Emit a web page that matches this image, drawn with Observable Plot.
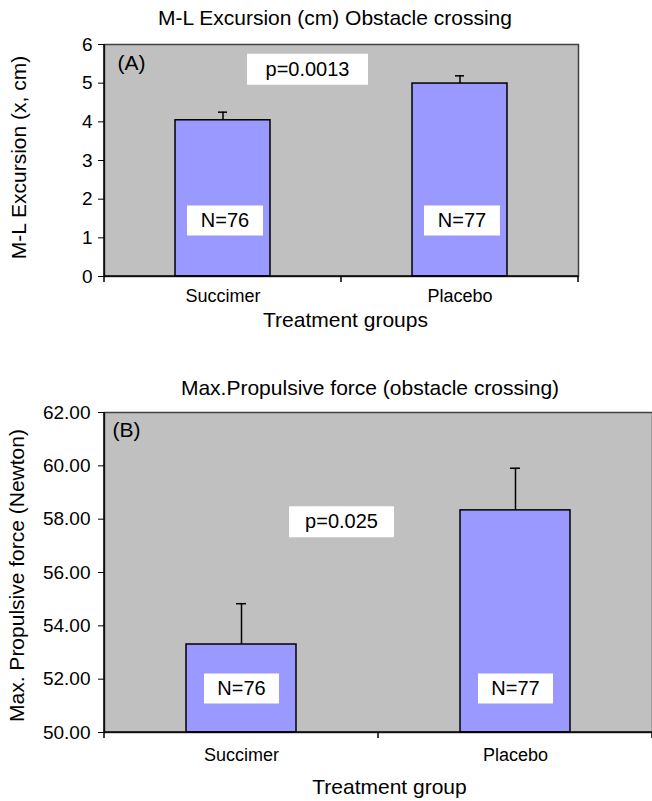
<!DOCTYPE html>
<html><head><meta charset="utf-8">
<script src="https://cdn.jsdelivr.net/npm/d3@7"></script>
<script src="https://cdn.jsdelivr.net/npm/@observablehq/plot@0.6"></script>
<style>
body{margin:0;background:#fff;width:652px;height:801px;overflow:hidden;font-family:"Liberation Sans",Arial,sans-serif;}
.title{font-size:21px;color:#000;white-space:nowrap;box-sizing:border-box;text-align:center;}
svg{overflow:visible;}
</style></head><body>
<div id="t1" class="title" style="height:36px;line-height:36px;padding-left:18px;">M-L Excursion (cm) Obstacle crossing</div>
<div id="c1"></div>
<div id="t2" class="title" style="height:70px;padding-top:44px;line-height:24px;padding-left:88px;">Max.Propulsive force (obstacle crossing)</div>
<div id="c2"></div>
<script>
// ---- data ----
const groups = ["Succimer", "Placebo"];
// Panel A: M-L excursion (cm)
const mlMean = [4.04, 4.99];
const mlSE = [0.21, 0.20];
const mlN = ["N=76", "N=77"];
const mlTicks = [0, 1, 2, 3, 4, 5, 6];
const mlP = "p=0.0013";
// Panel B: max propulsive force (Newton)
const forceMean = [53.30, 58.33];
const forceSE = [1.53, 1.58];
const forceN = ["N=76", "N=77"];
const forceTicks = [50, 52, 54, 56, 58, 60, 62];
const forceP = "p=0.025";

const FONT = "Liberation Sans, Arial, sans-serif";

// rectangular label-background symbol (w x h pixels)
function boxSymbol(w, h) {
  return {draw(context) { context.rect(-w / 2, -h / 2, w, h); }};
}

function axisLines(index, scales, values, dimensions) {
  const {width, height, marginLeft, marginRight, marginTop, marginBottom} = dimensions;
  const l = marginLeft, r = width - marginRight, t = marginTop, b = height - marginBottom;
  const g = d3.create("svg:g").attr("stroke", "#000").attr("stroke-width", 1.5);
  g.append("line").attr("x1", l).attr("x2", l).attr("y1", t).attr("y2", b + 6);
  g.append("line").attr("x1", l).attr("x2", r).attr("y1", b).attr("y2", b);
  const n = groups.length;
  for (let i = 1; i <= n; i++) {
    const x = l + i * (r - l) / n;
    g.append("line").attr("x1", x).attr("x2", x).attr("y1", b).attr("y2", b + 6);
  }
  return g.node();
}

function panel(o) {
  const data = groups.map((g, i) => ({group: g, mean: o.means[i], hi: o.means[i] + o.ses[i], n: o.ns[i]}));
  const y0 = o.ticks[0];
  return Plot.plot({
    width: 652, height: o.height,
    marginLeft: 104, marginRight: o.marginRight, marginTop: o.marginTop, marginBottom: o.marginBottom,
    style: {fontFamily: FONT, fontSize: "19px", color: "#000", background: "transparent", overflow: "visible"},
    x: {domain: groups, paddingInner: 0.6, paddingOuter: 0.3, label: null},
    y: {domain: [o.ticks[0], o.ticks[o.ticks.length - 1]], label: null},
    marks: [
      Plot.frame({fill: "#c0c0c0", stroke: "#404040", strokeWidth: 1.5}),
      Plot.barY(data, {x: "group", y1: y0, y2: "mean", fill: "#9999ff", stroke: "#000", strokeWidth: 1.5}),
      Plot.ruleX(data, {x: "group", y1: "mean", y2: "hi", stroke: "#000", strokeWidth: 1.5}),
      Plot.tickY(data, {x: "group", y: "hi", insetLeft: o.capInset, insetRight: o.capInset, stroke: "#000", strokeWidth: 1.5}),
      // N labels on white boxes
      Plot.dot(data, {x: "group", y: () => o.nY, symbol: boxSymbol(o.nBoxW, 30), r: 10, fill: "#fff", stroke: "none", dx: o.nBoxDx}),
      Plot.text(data, {x: "group", y: () => o.nY, text: "n", fontSize: 20, lineAnchor: "middle", dx: o.nBoxDx}),
      // p-value on white box
      Plot.dot([o.p], {y: () => o.pY, symbol: boxSymbol(o.pBoxW, 31), r: 10, fill: "#fff", stroke: "none", dx: o.pDx}),
      Plot.text([o.p], {y: () => o.pY, text: d => d, dx: o.pDx, fontSize: 20, lineAnchor: "middle"}),
      Plot.text([o.tag], {frameAnchor: "top-left", text: d => d, dx: o.tagDx, dy: o.tagDy, textAnchor: "start", lineAnchor: "middle", fontSize: 21}),
      Plot.axisY({ticks: o.ticks, tickFormat: o.fmt, tickSize: 6, tickPadding: o.yTickPadding, fontSize: 19, label: null}),
      Plot.axisX({tickSize: 0, tickPadding: o.xTickPadding, fontSize: 18, label: null}),
      axisLines,
      Plot.text([o.xTitle], {frameAnchor: "bottom", text: d => d, dx: o.xTitleDx, dy: o.xTitleDy, lineAnchor: "middle", fontSize: 21}),
      Plot.text([o.yTitle], {frameAnchor: "left", text: d => d, dx: o.yTitleDx, dy: o.yTitleDy, rotate: -90, textAnchor: "middle", lineAnchor: "middle", fontSize: 21})
    ]
  });
}

const A = panel({
  means: mlMean, ses: mlSE, ns: mlN, ticks: mlTicks, fmt: d => d3.format("d")(d), p: mlP,
  height: 296, marginTop: 8, marginBottom: 56, marginRight: 74,
  nY: 1.45, nBoxW: 76, nBoxDx: 2, pY: 5.36, pDx: -34, pBoxW: 121, capInset: 43,
  tag: "(A)", tagDx: 13, tagDy: 19, yTickPadding: 6, xTickPadding: 12.5,
  xTitle: "Treatment groups", xTitleDx: 4, xTitleDy: 44,
  yTitle: "M-L Excursion (x, cm)", yTitleDx: -85, yTitleDy: -3
});
document.getElementById("c1").appendChild(A);

const B = panel({
  means: forceMean, ses: forceSE, ns: forceN, ticks: forceTicks, fmt: d => d.toFixed(2), p: forceP,
  height: 399, marginTop: 10, marginBottom: 69, marginRight: 0,
  nY: 51.65, nBoxW: 75, nBoxDx: 0, pY: 57.9, pDx: -37, pBoxW: 105, capInset: 50,
  tag: "(B)", tagDx: 8, tagDy: 18, yTickPadding: 8, xTickPadding: 15.5,
  xTitle: "Treatment group", xTitleDx: 11, xTitleDy: 55,
  yTitle: "Max. Propulsive force (Newton)", yTitleDx: -87, yTitleDy: 3
});
document.getElementById("c2").appendChild(B);
</script>
</body></html>
